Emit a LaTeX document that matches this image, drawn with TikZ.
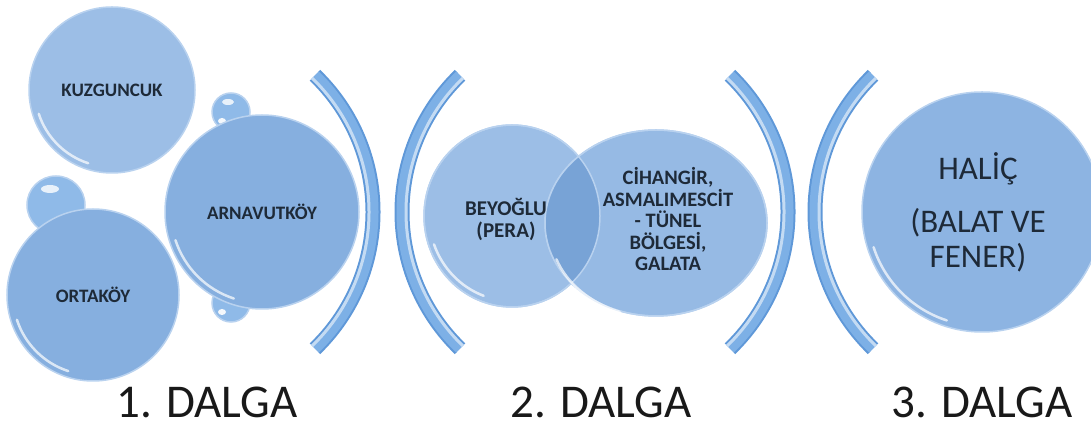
\documentclass[tikz,border=0pt]{standalone}
\usepackage{fontspec}
\setmainfont{Carlito}
\usetikzlibrary{shapes.geometric}
\definecolor{bfill}{HTML}{8DB4E2}
\definecolor{bfillL}{HTML}{9CBEE6}
\definecolor{bfillD}{HTML}{86AFDF}
\definecolor{rimc}{HTML}{B9D2EF}
\definecolor{ovl}{HTML}{78A3D6}
\definecolor{brk}{HTML}{7DB0E6}
\definecolor{brkD}{HTML}{5F98D8}
\definecolor{txtc}{HTML}{1E2A38}
\definecolor{bub}{HTML}{8FBAE8}
\newcommand\myshine[3]{\draw[white,opacity=.7,line width=2.5,line cap=round] (#1,#2) ++(198:#3) arc[start angle=198,end angle=252,radius=#3];}
\newcommand\mybracket[3]{%
  \draw[brkD,line width=15] (#1,213) ++(#2:190) arc[start angle=#2,end angle=#3,radius=190];
  \draw[brk,line width=11] (#1,213) ++(#2:190) arc[start angle=#2,end angle=#3,radius=190];
  \draw[white,opacity=.55,line width=3] (#1,213) ++(#2:186) arc[start angle=#2,end angle=#3,radius=186];}
\begin{document}
\begin{tikzpicture}[x=1pt,y=1pt,
  bigc/.style={circle,draw=rimc,line width=1.5,inner sep=0,minimum size=#1},
  ell/.style={ellipse,draw=rimc,line width=1.5,inner sep=0},
  smalltxt/.style={font=\fontsize{19}{22}\selectfont\bfseries,text=txtc,align=center},
  midtxt/.style={font=\fontsize{21}{22}\selectfont\bfseries,text=txtc,align=center},
  bigtxt/.style={font=\fontsize{33}{35}\selectfont,text=txtc,align=center},
  wave/.style={font=\fontsize{47}{50}\selectfont,text=black!90,anchor=base,inner sep=0}]
\useasboundingbox (0,0) rectangle (1091,425);
\clip (0,0) rectangle (1091,425);

% small bubbles
\node[bigc=58,fill=bub,draw=rimc] (b1) at (56,220) {};
\fill[white,opacity=.8] (50,236) ellipse [x radius=9,y radius=4];
\node[bigc=38,fill=bub,draw=rimc] (b2) at (231,313) {};
\fill[white,opacity=.8] (228,323) ellipse [x radius=6,y radius=3];
\fill[white,opacity=.9] (222,304) ellipse [x radius=4,y radius=3];
\node[bigc=38,fill=bub,draw=rimc] (b3) at (231,122) {};
\fill[white,opacity=.8] (228,132) ellipse [x radius=6,y radius=3];
\fill[white,opacity=.9] (222,113) ellipse [x radius=4,y radius=3];

% wave 1 circles
\node[bigc=166,fill=bfillL] (kuz) at (112,335) {};
\node[smalltxt] (kuzt) at (kuz) {KUZGUNCUK};
\myshine{112}{335}{77}
\node[bigc=172,fill=bfillD] (ort) at (93,130) {};
\node[smalltxt] (ortt) at (ort) {ORTAKÖY};
\myshine{93}{130}{80}
\node[bigc=194,fill=bfillD] (arn) at (262,213) {};
\node[smalltxt] (arnt) at (arn) {ARNAVUTKÖY};
\myshine{262}{213}{91}

% wave 2 ellipses
\node[ell,fill=bfillL,minimum width=176,minimum height=182] (bey) at (512,209) {};
\node[ell,fill=bfill,fill opacity=.92,minimum width=222,minimum height=186] (cih) at (656,202) {};
\begin{scope}
  \clip (512,209) ellipse [x radius=88,y radius=91];
  \fill[ovl] (656,202) ellipse [x radius=111,y radius=93];
\end{scope}
\draw[rimc,line width=1.5] (bey.center) ellipse [x radius=88,y radius=91];
\draw[rimc,line width=1.5] (cih.center) ellipse [x radius=111,y radius=93];
\draw[white,opacity=.7,line width=2.5,line cap=round] (512,209) ++(200:83) arc[start angle=200,end angle=250,x radius=83,y radius=86];
\draw[white,opacity=.7,line width=2.5,line cap=round] (656,202) ++(200:106) arc[start angle=200,end angle=250,x radius=106,y radius=88];
\node[midtxt] (beyt) at (506,206) {BEYOĞLU\\(PERA)};
\node[smalltxt,font=\fontsize{20.5}{21.5}\selectfont\bfseries] (ciht) at (668,206) {CİHANGİR,\\ASMALIMESCİT\\- TÜNEL\\BÖLGESİ,\\GALATA};

% wave 3
\node[bigc=240,fill=bfill] (hal) at (982,213) {};
\myshine{982}{213}{114}
\node[bigtxt] (halt) at (978,256) {HALİÇ};
\node[bigtxt] (balt) at (978,185) {(BALAT VE\\FENER)};

% brackets
\mybracket{183}{-46}{46}
\mybracket{592}{134}{226}
\mybracket{598}{-46}{46}
\mybracket{1005}{134}{226}

% labels
\node[wave] (w1) at (207,7) {1. DALGA};
\node[wave] (w2) at (601,7) {2. DALGA};
\node[wave] (w3) at (982,7) {3. DALGA};
\end{tikzpicture}
\end{document}
